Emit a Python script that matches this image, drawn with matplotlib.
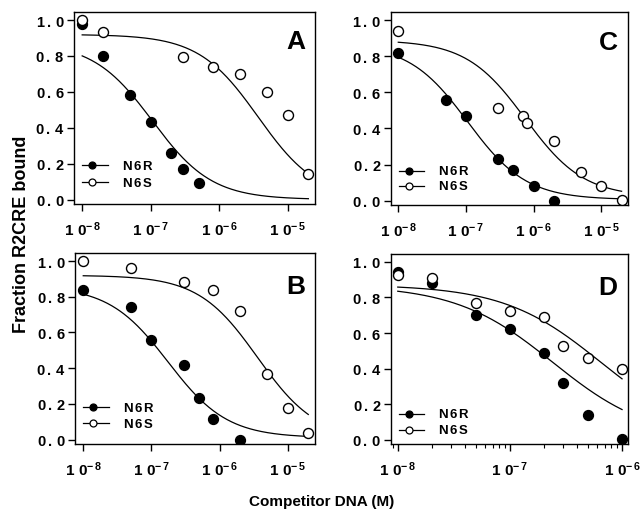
"""Competition binding of R2CRE: fraction bound vs competitor DNA, four panels."""
import numpy as np
import matplotlib
matplotlib.use("Agg")
import matplotlib.pyplot as plt
from matplotlib.ticker import FixedLocator, LogLocator, NullFormatter, FuncFormatter

plt.rcParams["font.family"] = ["Liberation Sans", "DejaVu Sans"]
plt.rcParams["font.weight"] = "bold"
plt.rcParams["mathtext.fontset"] = "custom"
plt.rcParams["mathtext.rm"] = "Liberation Sans:bold"
plt.rcParams["mathtext.bf"] = "Liberation Sans:bold"
plt.rcParams["mathtext.it"] = "Liberation Sans:bold"

# ---- measured points (competitor concentration in M, fraction bound) ----
A_R_x = [1e-8, 2e-8, 5e-8, 1e-7, 2e-7, 3e-7, 5e-7]
A_R_y = [0.98, 0.80, 0.58, 0.43, 0.26, 0.17, 0.09]
A_S_x = [1e-8, 2e-8, 3e-7, 8e-7, 2e-6, 5e-6, 1e-5, 2e-5]
A_S_y = [1.00, 0.935, 0.795, 0.74, 0.70, 0.60, 0.47, 0.14]

B_R_x = [1e-8, 5e-8, 1e-7, 3e-7, 5e-7, 8e-7, 2e-6]
B_R_y = [0.84, 0.74, 0.555, 0.42, 0.23, 0.115, 0.0]
B_S_x = [1e-8, 5e-8, 3e-7, 8e-7, 2e-6, 5e-6, 1e-5, 2e-5]
B_S_y = [1.00, 0.96, 0.885, 0.835, 0.72, 0.365, 0.175, 0.035]

C_R_x = [1e-8, 5e-8, 1e-7, 3e-7, 5e-7, 1e-6, 2e-6]
C_R_y = [0.82, 0.56, 0.47, 0.23, 0.17, 0.08, 0.0]
C_S_x = [1e-8, 3e-7, 7e-7, 8e-7, 2e-6, 5e-6, 1e-5, 2e-5]
C_S_y = [0.94, 0.515, 0.47, 0.43, 0.33, 0.16, 0.08, 0.005]

D_R_x = [1e-8, 2e-8, 5e-8, 1e-7, 2e-7, 3e-7, 5e-7, 1e-6]
D_R_y = [0.945, 0.88, 0.70, 0.62, 0.485, 0.32, 0.14, 0.005]
D_S_x = [1e-8, 2e-8, 5e-8, 1e-7, 2e-7, 3e-7, 5e-7, 1e-6]
D_S_y = [0.925, 0.91, 0.77, 0.725, 0.69, 0.525, 0.46, 0.40]

# ---- single-site competition fits: (top, bottom, IC50) ----
A_R_fit = (0.876, 0.0, 1.06e-7)
A_S_fit = (0.92, 0.0, 3.7e-6)
B_R_fit = (0.86, 0.01, 1.75e-7)
B_S_fit = (0.92, 0.0, 3.6e-6)
C_R_fit = (0.87, 0.005, 1.06e-7)
C_S_fit = (0.89, 0.02, 7.5e-7)
D_R_fit = (0.87, 0.0, 2.41e-7)
D_S_fit = (0.872, 0.0, 6.45e-7)

y_ticks = [0.0, 0.2, 0.4, 0.6, 0.8, 1.0]
series_names = ["N6R", "N6S"]


def fit_curve(p, x):
    top, bot, ic50 = p
    return bot + (top - bot) / (1.0 + x / ic50)


def spaced(s):
    # bold mathtext with thin gaps between characters
    return r"$\mathbf{" + r"\,".join(s) + "}$"


def pow_label(v, pos):
    e = int(round(np.log10(v)))
    return r"$\mathbf{1\ 0^{-\,%d}}$" % abs(e)


def y_label(v, pos):
    return spaced("%.1f" % v)


panels = [
    # letter, rect, data, fits, xlim, xticks, curve range, legend rows, letter y
    ("A", [0.1153, 0.598, 0.3754, 0.3765], (A_R_x, A_R_y, A_S_x, A_S_y), (A_R_fit, A_S_fit),
     (7.6e-9, 2.5e-5), [1e-8, 1e-7, 1e-6, 1e-5], (1e-8, 2e-5), (0.203, 0.113), 0.815),
    ("C", [0.609, 0.596, 0.3685, 0.378], (C_R_x, C_R_y, C_S_x, C_S_y), (C_R_fit, C_S_fit),
     (7.8e-9, 2.45e-5), [1e-8, 1e-7, 1e-6, 1e-5], (1e-8, 2e-5), (0.178, 0.1), 0.81),
    ("B", [0.117, 0.1275, 0.3735, 0.3745], (B_R_x, B_R_y, B_S_x, B_S_y), (B_R_fit, B_S_fit),
     (7.6e-9, 2.5e-5), [1e-8, 1e-7, 1e-6, 1e-5], (1e-8, 2e-5), (0.192, 0.108), 0.79),
    ("D", [0.609, 0.1275, 0.3685, 0.3725], (D_R_x, D_R_y, D_S_x, D_S_y), (D_R_fit, D_S_fit),
     (8.7e-9, 1.12e-6), [1e-8, 1e-7, 1e-6], (1e-8, 1e-6), (0.158, 0.075), 0.79),
]

fig = plt.figure(figsize=(6.42, 5.10), dpi=100)

for letter, rect, (rx, ry, sx, sy), (rfit, sfit), xlim, xt, crange, leg, ly in panels:
    ax = fig.add_axes(rect)
    xs = np.logspace(np.log10(crange[0]), np.log10(crange[1]), 300)
    ax.plot(xs, fit_curve(rfit, xs), "-", color="black", lw=0.9, zorder=2)
    ax.plot(xs, fit_curve(sfit, xs), "-", color="black", lw=0.9, zorder=2)
    ax.plot(rx, ry, "o", ms=7.2, mfc="black", mec="black", mew=0.9, ls="none", zorder=3)
    ax.plot(sx, sy, "o", ms=7.2, mfc="white", mec="black", mew=1.0, ls="none", zorder=3)

    ax.set_xscale("log")
    ax.set_xlim(*xlim)
    ax.set_ylim(-0.025, 1.045)
    ax.xaxis.set_major_locator(FixedLocator(xt))
    ax.xaxis.set_major_formatter(FuncFormatter(pow_label))
    if letter == "D":
        ax.xaxis.set_minor_locator(LogLocator(base=10, subs=np.arange(2, 10)))
    else:
        ax.xaxis.set_minor_locator(FixedLocator([]))
    ax.xaxis.set_minor_formatter(NullFormatter())
    ax.yaxis.set_major_locator(FixedLocator(y_ticks))
    ax.yaxis.set_major_formatter(FuncFormatter(y_label))
    ax.tick_params(axis="both", which="major", direction="out", length=5, width=1)
    ax.tick_params(axis="x", which="minor", direction="out", length=3, width=0.8)
    ax.tick_params(axis="y", labelsize=10.5, pad=2)
    ax.tick_params(axis="x", labelsize=11, pad=6)
    for s in ax.spines.values():
        s.set_linewidth(1.0)

    ax.text(0.958, ly, letter, transform=ax.transAxes, ha="right", va="baseline",
            fontsize=19, fontweight="bold")

    # legend drawn as short line + marker + label, placed in axes fraction
    for yy, face, lab in zip(leg, ("black", "white"), series_names):
        ax.plot([0.033, 0.141], [yy, yy], "-", color="black", lw=0.9,
                transform=ax.transAxes, clip_on=False)
        ax.plot([0.075], [yy], "o", ms=5, mfc=face, mec="black", mew=0.9,
                transform=ax.transAxes, clip_on=False)
        ax.text(0.2, yy, spaced(lab), transform=ax.transAxes, ha="left", va="center",
                fontsize=9.5)

fig.text(0.033, 0.541, "Fraction R2CRE bound", rotation=90, ha="center", va="center",
         fontsize=13, fontweight="bold")
fig.text(0.501, 0.016, "Competitor DNA (M)", ha="center", va="center",
         fontsize=11, fontweight="bold")

fig.savefig("out.png", dpi=100)
